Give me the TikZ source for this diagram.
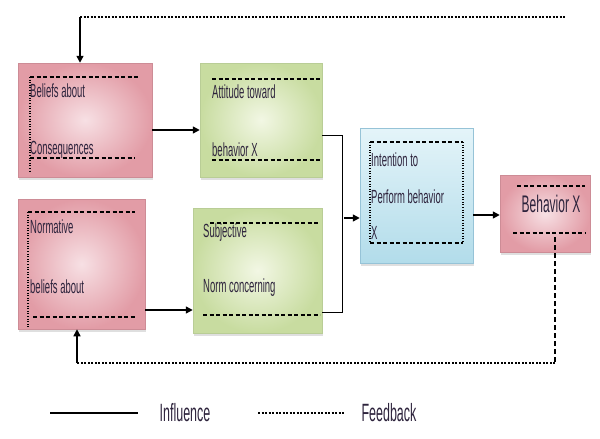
\documentclass[tikz,border=0pt]{standalone}
\usepackage{fontspec}
\setmainfont[FakeStretch=0.5]{Liberation Sans}
\usetikzlibrary{arrows.meta,shadows}
\definecolor{pinkIn}{RGB}{247,224,228}
\definecolor{pinkOut}{RGB}{226,156,166}
\definecolor{pinkB}{RGB}{205,140,150}
\definecolor{greenIn}{RGB}{242,247,228}
\definecolor{greenOut}{RGB}{200,220,160}
\definecolor{greenB}{RGB}{185,205,150}
\definecolor{blueTop}{RGB}{228,244,249}
\definecolor{blueBot}{RGB}{178,220,234}
\definecolor{blueB}{RGB}{150,195,215}
\definecolor{textc}{RGB}{45,35,60}
\begin{document}
\begin{tikzpicture}[x=1pt,y=-1pt,
  boxbase/.style={rectangle, line width=0.5pt, drop shadow={opacity=0.25, shadow xshift=1pt, shadow yshift=-2.5pt}},
  pinkbox/.style={boxbase, draw=pinkB, inner color=pinkIn, outer color=pinkOut},
  greenbox/.style={boxbase, draw=greenB, inner color=greenIn, outer color=greenOut},
  bluebox/.style={boxbase, draw=blueB, top color=blueTop, bottom color=blueBot},
  txt/.style={anchor=west, inner sep=0pt, text=textc, font=\fontsize{19}{21}\selectfont},
  legtxt/.style={inner sep=0pt, text=textc, font=\fontsize{25}{27}\selectfont},
  fdash/.style={line width=1.1pt, dash pattern=on 4pt off 2.5pt},
  fdot/.style={line width=1.1pt, dash pattern=on 1pt off 1.6pt},
  arr/.style={line width=1.5pt, -{Triangle[length=7pt,width=7pt]}},
  plain/.style={line width=0.8pt},
  hdot/.style={line width=1.2pt, dash pattern=on 2pt off 1.5pt},
  vdash/.style={line width=1.1pt, dash pattern=on 5pt off 3pt}]
\useasboundingbox (0,0) rectangle (600,439);

% boxes
\node[pinkbox, minimum width=134pt, minimum height=114pt] (b1) at (85,120) {};
\node[greenbox, minimum width=122pt, minimum height=114pt] (b2) at (261,120) {};
\node[pinkbox, minimum width=127pt, minimum height=130pt] (b3) at (81.5,264) {};
\node[greenbox, minimum width=129pt, minimum height=125pt] (b4) at (257.5,270.5) {};
\node[bluebox, minimum width=113pt, minimum height=135pt] (b5) at (416.5,195.5) {};
\node[pinkbox, minimum width=90pt, minimum height=77pt] (b6) at (545,213.5) {};

% inner frames
\draw[fdash] (30,77) -- (140,77);
\draw[fdash] (30,158) -- (135,158);
\draw[fdot] (30,77) -- (30,173);
\draw[fdash] (212,79) -- (320,79);
\draw[fdash] (212,160) -- (320,160);
\draw[fdash] (28,212) -- (135,212);
\draw[fdash] (33,317) -- (135,317);
\draw[fdot] (28,212) -- (28,328);
\draw[fdash] (210,223) -- (320,223);
\draw[fdash] (203,315) -- (320,315);
\draw[fdash] (370,142) -- (463,142);
\draw[fdash] (370,243) -- (463,243);
\draw[fdot] (370,142) -- (370,243);
\draw[fdot] (463,142) -- (463,243);
\draw[fdash] (517,186) -- (585,186);
\draw[fdash] (513,233) -- (585,233);

% texts
\node[txt] (t1a) at (30,91) {Beliefs about};
\node[txt] (t1b) at (30,150) {Consequences};
\node[txt] (t2a) at (212,92) {Attitude toward};
\node[txt] (t2b) at (212,150) {behavior X};
\node[txt] (t3a) at (30,227) {Normative};
\node[txt] (t3b) at (30,287) {beliefs about};
\node[txt] (t4a) at (203,233) {Subjective};
\node[txt] (t4b) at (203,288) {Norm concerning};
\node[txt] (t5a) at (371,160) {Intention to};
\node[txt] (t5b) at (371,197) {Perform behavior};
\node[txt] (t5c) at (371,233) {X};
\node[txt, anchor=center, font=\fontsize{24}{26}\selectfont] (t6) at (551,204) {Behavior X};

% connectors
\draw[arr] (b1.east |- 0,130) -- (b2.west |- 0,130);
\draw[arr] (b3.east |- 0,310) -- (b4.west |- 0,310);
\coordinate (m1) at (342,135);
\coordinate (m2) at (342,312);
\coordinate (m3) at (344,218);
\draw[plain] (b2.east |- m1) -- (m1) -- (m2) -- (b4.east |- m2);
\draw[arr] (m3) -- (b5.west |- m3);
\draw[arr] (b5.east |- 0,215) -- (b6.west |- 0,215);

% feedback loops
\coordinate (ftL) at (80,17);
\coordinate (ftR) at (565,17);
\draw[hdot] (ftL) -- (ftR);
\draw[arr] (ftL) -- (ftL |- b1.north);
\coordinate (fbS) at (555,237);
\coordinate (fbR) at (555,363);
\coordinate (fbL) at (77,363);
\draw[vdash] (fbS) -- (fbR);
\draw[hdot] (fbR) -- (fbL);
\draw[arr] (fbL) -- (fbL |- b3.south);

% legend
\coordinate (l1) at (50,413);
\coordinate (l2) at (138,413);
\coordinate (l3) at (258,413);
\coordinate (l4) at (345,413);
\draw[plain, line width=1.2pt] (l1) -- (l2);
\node[legtxt] (li) at (185,413) {Influence};
\draw[hdot] (l3) -- (l4);
\node[legtxt] (lf) at (389,413) {Feedback};
\end{tikzpicture}
\end{document}
